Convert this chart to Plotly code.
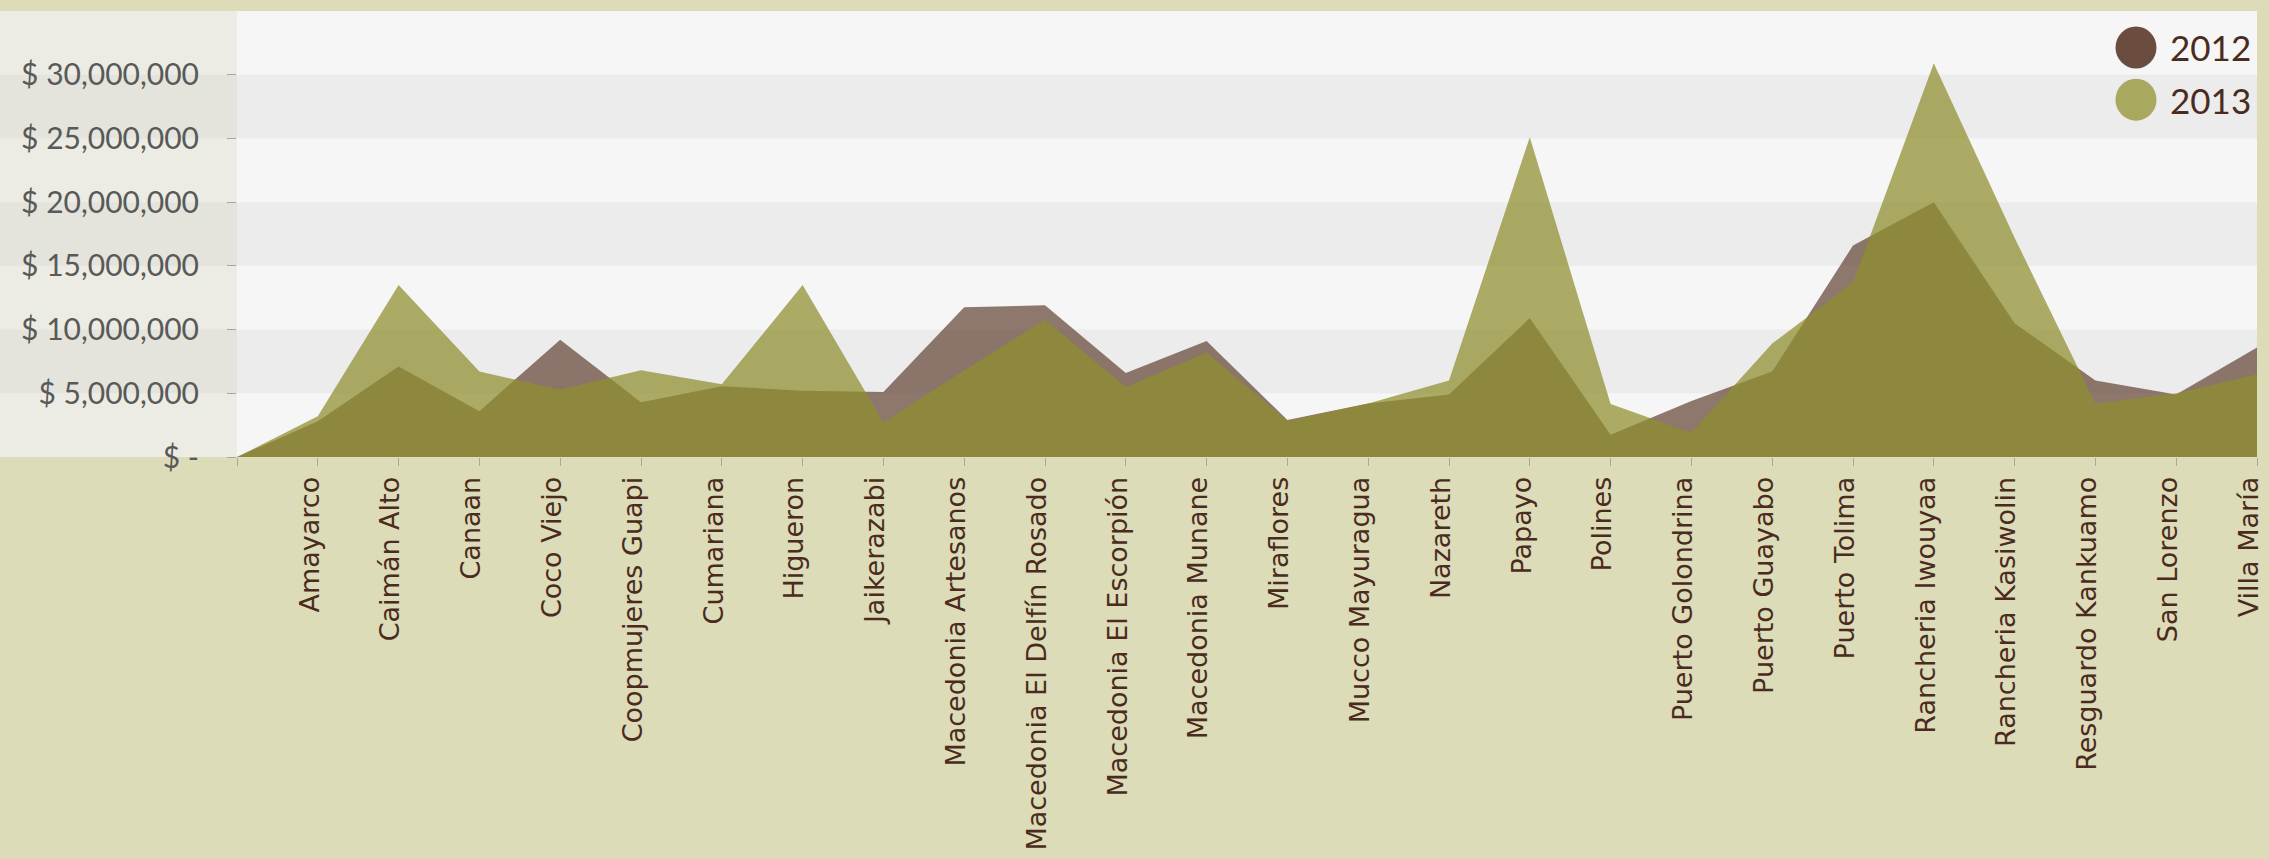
import plotly.graph_objects as go

categories = ["", "Amayarco", "Caimán Alto", "Canaan", "Coco Viejo", "Coopmujeres Guapi",
              "Cumariana", "Higueron", "Jaikerazabi", "Macedonia Artesanos",
              "Macedonia El Delfín Rosado", "Macedonia El Escorpión", "Macedonia Munane",
              "Miraflores", "Mucco Mayuragua", "Nazareth", "Papayo", "Polines",
              "Puerto Golondrina", "Puerto Guayabo", "Puerto Tolima", "Rancheria Iwouyaa",
              "Rancheria Kasiwolin", "Resguardo Kankuamo", "San Lorenzo", "Villa María"]

values_2012 = [0, 2.8e6, 7.1e6, 3.6e6, 9.2e6, 4.3e6, 5.55e6, 5.2e6, 5.1e6, 11.75e6,
               11.9e6, 6.6e6, 9.1e6, 2.9e6, 4.2e6, 4.9e6, 10.9e6, 1.75e6, 4.4e6,
               6.7e6, 16.6e6, 20.0e6, 10.5e6, 6.0e6, 4.9e6, 8.6e6]

values_2013 = [0, 3.2e6, 13.5e6, 6.7e6, 5.3e6, 6.8e6, 5.7e6, 13.5e6, 2.7e6, 6.8e6,
               10.8e6, 5.5e6, 8.2e6, 2.85e6, 4.2e6, 6.0e6, 25.1e6, 4.15e6, 1.9e6,
               8.9e6, 13.7e6, 30.9e6, 17.2e6, 4.2e6, 5.0e6, 6.5e6]

y_ticks = [0, 5e6, 10e6, 15e6, 20e6, 25e6, 30e6]
y_ticktext = ["$ -", "$ 5,000,000", "$ 10,000,000", "$ 15,000,000",
              "$ 20,000,000", "$ 25,000,000", "$ 30,000,000"]
series_names = ["2012", "2013"]

W, H = 2269, 859
ML, MR, MT, MB = 237, 12, 11, 402
PW = W - ML - MR
PH = H - MT - MB
YMAX = 35e6

x = list(range(len(categories)))

fig = go.Figure()
fig.add_trace(go.Scatter(x=x, y=values_2012, mode="lines", line=dict(width=0),
                         fill="tozeroy", fillcolor="rgba(107,76,62,0.75)",
                         name=series_names[0], showlegend=False, hoverinfo="skip"))
fig.add_trace(go.Scatter(x=x, y=values_2013, mode="lines", line=dict(width=0),
                         fill="tozeroy", fillcolor="rgba(143,143,46,0.73)",
                         name=series_names[1], showlegend=False, hoverinfo="skip"))

shapes = []
left_x0 = -ML / PW
shapes.append(dict(type="rect", xref="paper", yref="paper", x0=0, x1=1, y0=0, y1=1,
                   fillcolor="#f6f6f6", line=dict(width=0), layer="below"))
shapes.append(dict(type="rect", xref="paper", yref="paper", x0=left_x0, x1=0, y0=0, y1=1,
                   fillcolor="#ecece4", line=dict(width=0), layer="below"))
for lo in (5e6, 15e6, 25e6):
    shapes.append(dict(type="rect", xref="paper", yref="paper", x0=0, x1=1,
                       y0=lo / YMAX, y1=(lo + 5e6) / YMAX,
                       fillcolor="#ececec", line=dict(width=0), layer="below"))
    shapes.append(dict(type="rect", xref="paper", yref="paper", x0=left_x0, x1=0,
                       y0=lo / YMAX, y1=(lo + 5e6) / YMAX,
                       fillcolor="#e4e4dc", line=dict(width=0), layer="below"))

leg_colors = ["#6b4d40", "#a9a85f"]
leg_py = [47.5, 99.7]
annotations = []
for name, col, py in zip(series_names, leg_colors, leg_py):
    yp = (MT + PH - py) / PH
    shapes.append(dict(type="circle", xref="paper", yref="paper",
                       xsizemode="pixel", ysizemode="pixel",
                       xanchor=(2136 - ML) / PW, yanchor=yp,
                       x0=-20.5, x1=20.5, y0=-21, y1=21,
                       fillcolor=col, line=dict(width=0), layer="above"))
    annotations.append(dict(xref="paper", yref="paper", x=(2168 - ML) / PW, y=yp,
                            xanchor="left", yanchor="middle", showarrow=False,
                            text=name, font=dict(family="Lato", size=35, color="#4b2b20")))

fig.update_layout(
    width=W, height=H, autosize=False,
    margin=dict(l=ML, r=MR, t=MT, b=MB, pad=0),
    paper_bgcolor="#dcdcb9", plot_bgcolor="#f6f6f6",
    shapes=shapes, annotations=annotations,
    showlegend=False,
    xaxis=dict(range=[0, len(categories) - 1], tickmode="array", tickvals=x,
               ticktext=categories, tickangle=-90, ticks="outside", ticklen=8,
               tickcolor="#a6a6a6", tickwidth=1, showgrid=False, zeroline=False,
               showline=False, ticklabelstandoff=0, ticklabelshift=-8,
               automargin=False, ticklabeloverflow="allow",
               tickfont=dict(family="DejaVu Sans", size=27, color="#4b2b20")),
    yaxis=dict(range=[0, YMAX], tickmode="array", tickvals=y_ticks, ticktext=y_ticktext,
               ticks="outside", ticklen=9, tickcolor="#a6a6a6", tickwidth=1,
               showgrid=False, zeroline=False, showline=False, ticklabelstandoff=22,
               automargin=False,
               tickfont=dict(family="Lato", size=30, color="#595959")),
)

fig.write_html("out.html", config={"displayModeBar": False},
               post_script="document.body.style.margin='0';document.body.style.overflow='hidden';")
